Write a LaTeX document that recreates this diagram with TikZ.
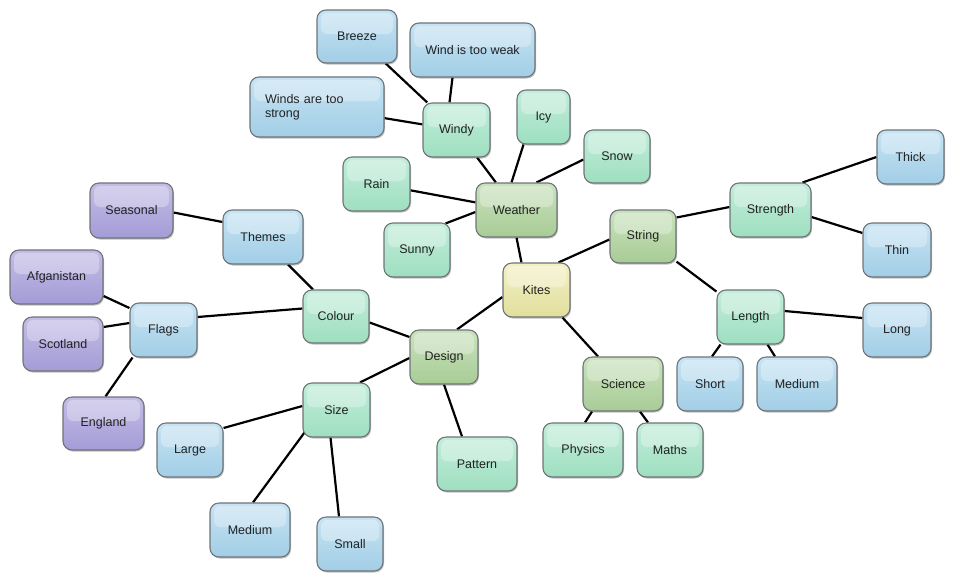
\documentclass[tikz,border=0pt]{standalone}
\usepackage{fontspec}
\setmainfont{Liberation Sans}
\usetikzlibrary{calc,shadows}
\pgfdeclarelayer{background}
\pgfsetlayers{background,main}
\definecolor{bluetop}{HTML}{C6E3F3}
\definecolor{bluebot}{HTML}{A2CEE6}
\definecolor{minttop}{HTML}{C2EDDA}
\definecolor{mintbot}{HTML}{9EDFC0}
\definecolor{olivetop}{HTML}{CAE2BD}
\definecolor{olivebot}{HTML}{A8CC96}
\definecolor{yeltop}{HTML}{F2F1C6}
\definecolor{yelbot}{HTML}{E2DF9C}
\definecolor{purtop}{HTML}{C3BDE6}
\definecolor{purbot}{HTML}{A49CD6}
\definecolor{boxline}{HTML}{6E7478}
\definecolor{txt}{HTML}{222222}
\tikzset{
  box/.style={draw=boxline, line width=1.1pt, rounded corners=9pt,
    minimum height=54pt, minimum width=66pt, inner sep=2pt, text=txt,
    font=\fontsize{12.5}{14}\selectfont,
    drop shadow={shadow xshift=1pt, shadow yshift=-1.5pt, opacity=0.25, fill=black},
    path picture={\fill[white,opacity=0.3,rounded corners=6pt]
      ([xshift=4pt,yshift=-3pt]path picture bounding box.north west) rectangle
      ([xshift=-4pt,yshift=-24pt]path picture bounding box.north east);}},
  bluebox/.style={box, top color=bluetop, bottom color=bluebot},
  mintbox/.style={box, top color=minttop, bottom color=mintbot},
  olivebox/.style={box, top color=olivetop, bottom color=olivebot},
  yelbox/.style={box, top color=yeltop, bottom color=yelbot},
  purbox/.style={box, top color=purtop, bottom color=purbot},
  link/.style={draw=black, line width=2.2pt},
}
\begin{document}
\begin{tikzpicture}[x=1pt,y=-1pt]
\useasboundingbox (0,0) rectangle (960,587);
% weather branch
\node[bluebox, minimum width=80pt, minimum height=53pt] (breeze) at (357,36.5) {Breeze};
\node[bluebox, minimum width=125pt] (weak) at (472.5,50) {Wind is too weak};
\node[bluebox, minimum width=134pt, minimum height=60pt, text width=104pt, align=left] (strong) at (317,107) {Winds are too strong};
\node[mintbox, minimum width=67pt] (windy) at (456.5,130) {Windy};
\node[mintbox, minimum width=53pt] (icy) at (543.5,117) {Icy};
\node[mintbox, minimum height=53pt] (snow) at (617,156.5) {Snow};
\node[mintbox, minimum width=67pt] (rain) at (376.5,184) {Rain};
\node[olivebox, minimum width=81pt] (weather) at (516.5,210) {Weather};
\node[mintbox] (sunny) at (417,250) {Sunny};
\node[yelbox, minimum width=67pt] (kites) at (536.5,290) {Kites};
% string branch
\node[olivebox, minimum height=53pt] (string) at (643,236.5) {String};
\node[mintbox, minimum width=81pt] (strength) at (770.5,210) {Strength};
\node[bluebox, minimum width=67pt] (thick) at (910.5,157) {Thick};
\node[bluebox, minimum width=68pt] (thin) at (897,250) {Thin};
\node[mintbox, minimum width=67pt] (length) at (750.5,317) {Length};
\node[bluebox, minimum width=68pt] (long) at (897,330) {Long};
\node[bluebox] (short) at (710,384) {Short};
\node[bluebox, minimum width=80pt] (medr) at (797,384) {Medium};
% science branch
\node[olivebox, minimum width=80pt] (science) at (623,384) {Science};
\node[mintbox, minimum width=80pt] (physics) at (583,450) {Physics};
\node[mintbox] (maths) at (670,450) {Maths};
% design branch
\node[olivebox, minimum width=68pt] (design) at (444,357) {Design};
\node[mintbox, minimum width=80pt] (pattern) at (477,464) {Pattern};
\node[mintbox, minimum height=53pt] (colour) at (336,316.5) {Colour};
\node[bluebox, minimum width=80pt] (themes) at (263,237) {Themes};
\node[purbox, minimum width=83pt, minimum height=55pt] (seasonal) at (131.5,210.5) {Seasonal};
\node[purbox, minimum width=93pt] (afg) at (56.5,277) {Afganistan};
\node[bluebox, minimum width=67pt] (flags) at (163.5,330) {Flags};
\node[purbox, minimum width=80pt] (scot) at (63,344) {Scotland};
\node[purbox, minimum width=81pt, minimum height=53pt] (england) at (103.5,423.5) {England};
\node[mintbox, minimum width=67pt] (size) at (336.5,410) {Size};
\node[bluebox] (large) at (190,450) {Large};
\node[bluebox, minimum width=80pt] (medb) at (250,530) {Medium};
\node[bluebox] (small) at (350,544) {Small};
\begin{pgfonlayer}{background}
\fill[white] (0,0) rectangle (960,587);
\draw[link] (breeze) -- (windy);
\draw[link] ($(weak.south)+(-20,0)$) -- ($(windy.north)+(-7,0)$);
\draw[link] (strong) -- (windy);
\draw[link] (windy) -- (weather);
\draw[link] ($(icy.south)+(-20,0)$) -- ($(weather.north)+(-5,0)$);
\draw[link] ($(snow.west)+(0,3)$) -- ($(weather.north)+(20,0)$);
\draw[link] (rain) -- (weather);
\draw[link] ($(sunny.north east)+(-5,1)$) -- ($(weather.west)+(0,2)$);
\draw[link] (weather.south) -- ($(kites.north)+(-15,0)$);
\draw[link] ($(kites.north)+(22,0)$) -- ($(string.west)+(0,3)$);
\draw[link] ($(kites.west)+(0,7)$) -- ($(design.north)+(13,0)$);
\draw[link] ($(kites.south)+(26,0)$) -- ($(science.north)+(-25,0)$);
\draw[link] ($(string.east)+(0,-19)$) -- ($(strength.west)+(0,-3)$);
\draw[link] (string) -- (length);
\draw[link] ($(strength.north east)+(-9,0)$) -- (thick.west);
\draw[link] ($(strength.east)+(0,7)$) -- ($(thin.west)+(0,-17)$);
\draw[link] ($(length.east)+(0,-6)$) -- ($(long.west)+(0,-12)$);
\draw[link] ($(length.south)+(-30,0)$) -- ($(short.north)+(2,0)$);
\draw[link] ($(length.south)+(17,0)$) -- ($(medr.north)+(-22,0)$);
\draw[link] ($(science.south)+(-31,0)$) -- ($(physics.north)+(2,0)$);
\draw[link] ($(science.south)+(17,0)$) -- ($(maths.north)+(-22,0)$);
\draw[link] ($(colour.east)+(0,6)$) -- ($(design.west)+(0,-20)$);
\draw[link] ($(design.west)+(0,1)$) -- ($(size.north)+(23.5,0)$);
\draw[link] (design.south) -- ($(pattern.north)+(-15,0)$);
\draw[link] ($(size.west)+(0,-4)$) -- ($(large.east)+(0,-22)$);
\draw[link] ($(size.south west)+(2,-5)$) -- ($(medb.north)+(3,0)$);
\draw[link] ($(size.south)+(-6,0)$) -- ($(small.north)+(-11,0)$);
\draw[link] ($(themes.south)+(25,0)$) -- ($(colour.north)+(-23,0)$);
\draw[link] ($(flags.east)+(0,-13)$) -- ($(colour.west)+(0,-8)$);
\draw[link] ($(seasonal.east)+(0,2)$) -- ($(themes.west)+(0,-15)$);
\draw[link] ($(afg.east)+(0,19)$) -- ($(flags.west)+(0,-22)$);
\draw[link] ($(scot.east)+(0,-17)$) -- ($(flags.west)+(0,-7)$);
\draw[link] ($(flags.south)+(-31,0)$) -- ($(england.north)+(2,0)$);
\end{pgfonlayer}
\end{tikzpicture}
\end{document}
